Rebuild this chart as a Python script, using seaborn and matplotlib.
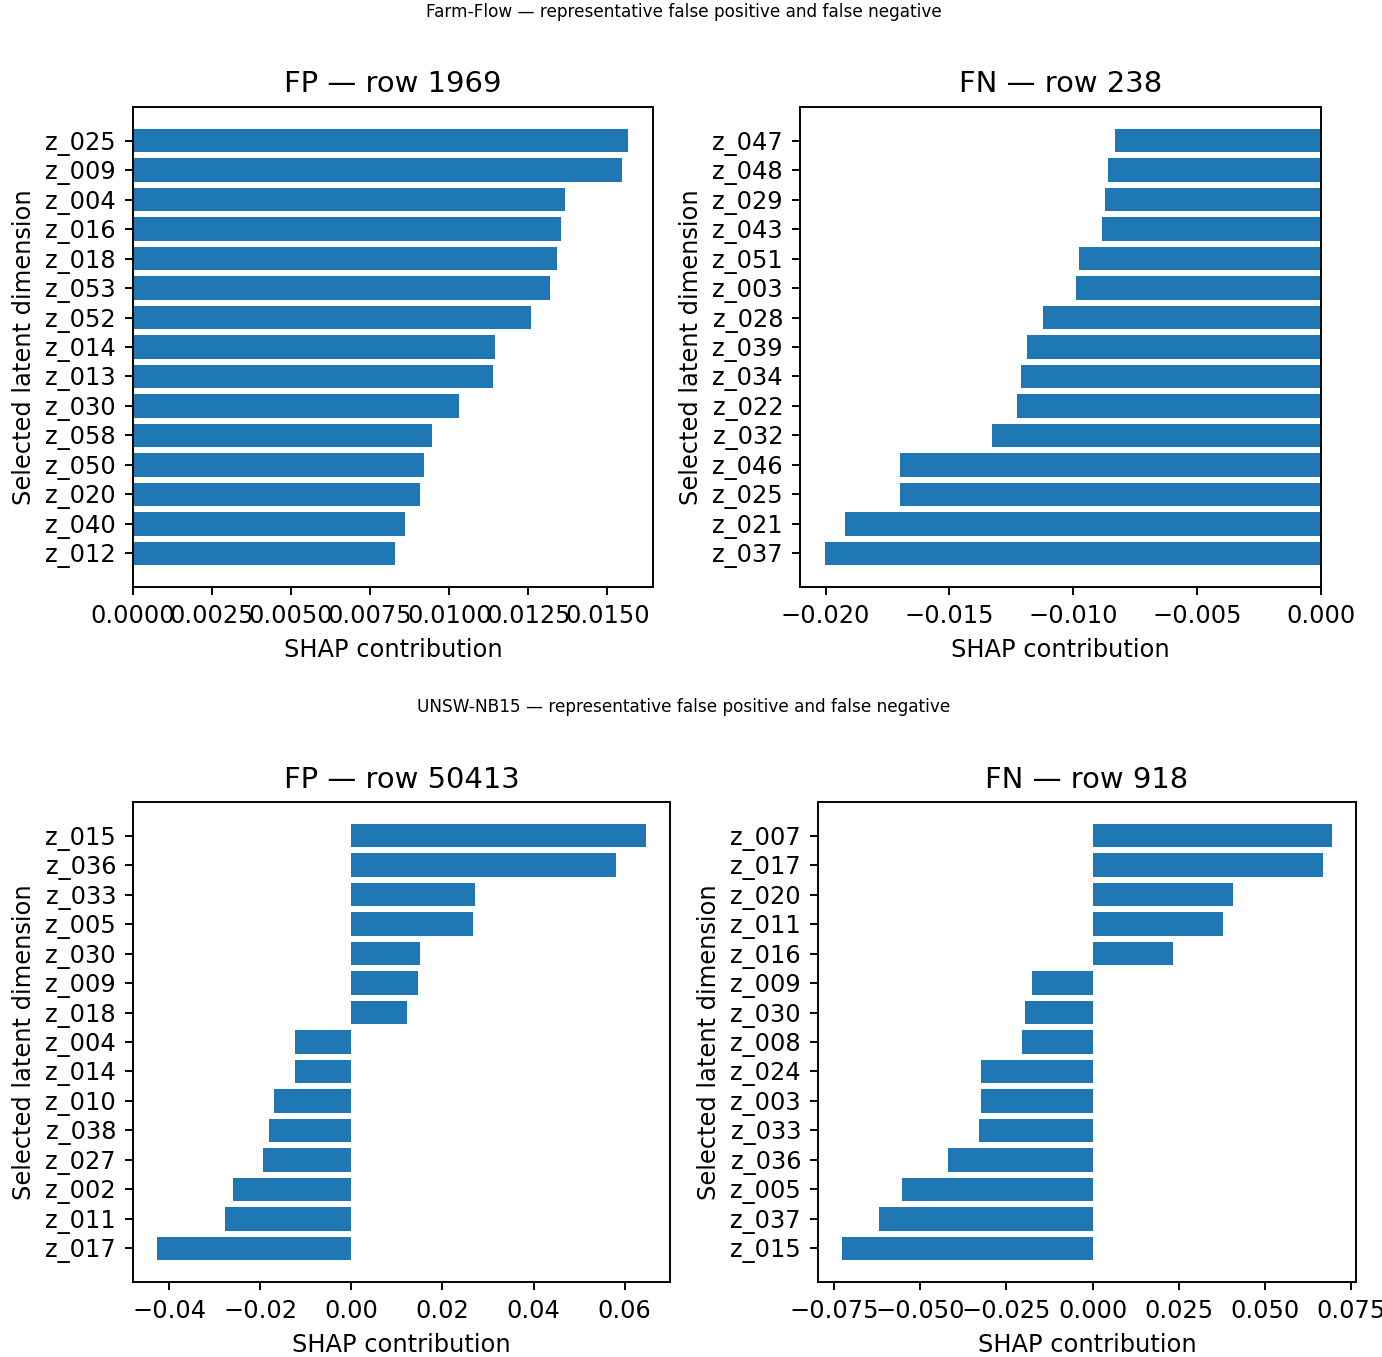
import numpy as np
import pandas as pd
import seaborn as sns
import matplotlib
matplotlib.use("Agg")
import matplotlib.pyplot as plt

# Farm-Flow, FP row 1969
ff_fp_dims = ["z_025", "z_009", "z_004", "z_016", "z_018", "z_053", "z_052", "z_014",
              "z_013", "z_030", "z_058", "z_050", "z_020", "z_040", "z_012"]
ff_fp_vals = [0.01566, 0.01545, 0.01365, 0.01352, 0.01340, 0.01318, 0.01259, 0.01145,
              0.01139, 0.01030, 0.00947, 0.00921, 0.00906, 0.00861, 0.00828]

# Farm-Flow, FN row 238
ff_fn_dims = ["z_047", "z_048", "z_029", "z_043", "z_051", "z_003", "z_028", "z_039",
              "z_034", "z_022", "z_032", "z_046", "z_025", "z_021", "z_037"]
ff_fn_vals = [-0.00831, -0.00859, -0.00870, -0.00885, -0.00978, -0.00991, -0.01122, -0.01188,
              -0.01213, -0.01227, -0.01328, -0.01700, -0.01701, -0.01922, -0.02003]

# UNSW-NB15, FP row 50413
un_fp_dims = ["z_015", "z_036", "z_033", "z_005", "z_030", "z_009", "z_018", "z_004",
              "z_014", "z_010", "z_038", "z_027", "z_002", "z_011", "z_017"]
un_fp_vals = [0.0646, 0.0582, 0.0271, 0.0268, 0.0150, 0.0147, 0.0123, -0.0123,
              -0.0124, -0.0170, -0.0180, -0.0194, -0.0261, -0.0278, -0.0426]

# UNSW-NB15, FN row 918
un_fn_dims = ["z_007", "z_017", "z_020", "z_011", "z_016", "z_009", "z_030", "z_008",
              "z_024", "z_003", "z_033", "z_036", "z_005", "z_037", "z_015"]
un_fn_vals = [0.0694, 0.0669, 0.0409, 0.0379, 0.0235, -0.0177, -0.0195, -0.0204,
              -0.0323, -0.0325, -0.0331, -0.0420, -0.0553, -0.0620, -0.0726]

W, H, DPI = 1382, 1357, 174

fig = plt.figure(figsize=(W / DPI, H / DPI), dpi=DPI)


def px_axes(left, top, right, bottom):
    return fig.add_axes([left / W, 1 - bottom / H, (right - left) / W, (bottom - top) / H])


def draw_panel(ax, dims, vals, title):
    df = pd.DataFrame({"dim": dims, "shap": vals})
    sns.barplot(data=df, x="shap", y="dim", order=dims, orient="h",
                color="#1f77b4", saturation=1, errorbar=None, linewidth=0, ax=ax)
    n = len(dims)
    pad = 0.05 * (n - 0.2)
    ax.set_ylim(n - 0.6 + pad, -0.4 - pad)
    ax.set_title(title, fontsize=12)
    ax.set_xlabel("SHAP contribution", fontsize=10)
    ax.set_ylabel("Selected latent dimension", fontsize=10)
    ax.tick_params(labelsize=10)
    for s in ax.spines.values():
        s.set_visible(True)


ax1 = px_axes(133, 107, 653, 587)
ax2 = px_axes(800, 107, 1321, 587)
ax3 = px_axes(133, 802, 670, 1282)
ax4 = px_axes(818, 802, 1356, 1282)

draw_panel(ax1, ff_fp_dims, ff_fp_vals, "FP \u2014 row 1969")
draw_panel(ax2, ff_fn_dims, ff_fn_vals, "FN \u2014 row 238")
draw_panel(ax3, un_fp_dims, un_fp_vals, "FP \u2014 row 50413")
draw_panel(ax4, un_fn_dims, un_fn_vals, "FN \u2014 row 918")

fig.text(0.4946, 1 - 12 / H, "Farm-Flow \u2014 representative false positive and false negative",
         ha="center", va="center", fontsize=7)
fig.text(0.4946, 1 - 707 / H, "UNSW-NB15 \u2014 representative false positive and false negative",
         ha="center", va="center", fontsize=7)

fig.savefig("out.png", dpi=DPI)
